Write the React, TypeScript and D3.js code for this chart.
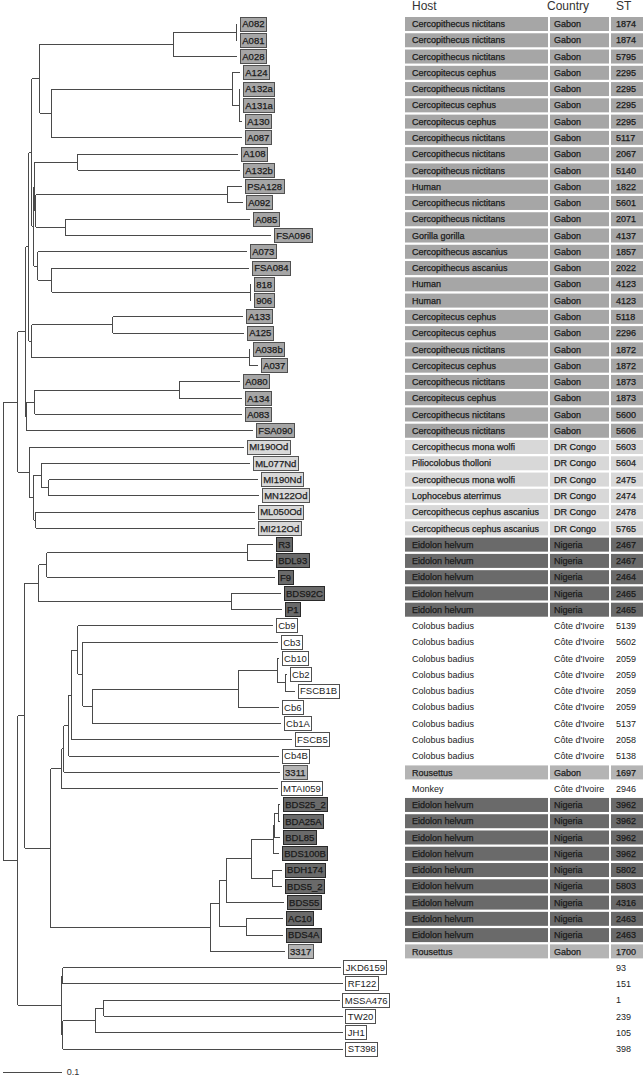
import React, { useEffect, useRef } from "react";
import * as d3 from "d3";

// ---- Tree (Newick pieces, branch lengths in substitutions/site) ----
const gabonA = "(((A082:0.0017,A081:0.0017):0.1068,A028:0.1085):0.2271,((A124:0.0136,(A132a:0.0017,A131a:0.0017,A130:0.0051):0.0119):0.3068,A087:0.3237):0.0203)";
const gabonB = "(((A108:0.2729,A132b:0.2763):0.0729,((PSA128:0.0254,A092:0.0271):0.3254,(A085:0.3136,FSA096:0.3492):0.0508):0.0017):0.0017,(A073:0.3559,(FSA084:0.3356,(818:0.0017,906:0.0017):0.3373):0.0237):0.0068)";
const gabonC = "((A133:0.2220,A125:0.2237):0.1373,(A038b:0.0017,A037:0.0153):0.3695)";
const gabonD = "(((A080:0.1034,A134:0.1068):0.2458,A083:0.3525):0.0136,FSA090:0.3847)";
const congo = "(MI190Od:0.3644,((ML077Nd:0.3542,(MI190Nd:0.3559,MN122Od:0.3576):0.0119):0.0136,(ML050Od:0.3729,MI212Od:0.3729):0.0034):0.0068)";
const nigeriaA = "(((R3:0.0441,BDL93:0.0441):0.3407,F9:0.3881):0.0136,(BDS92C:0.0847,P1:0.0864):0.3271)";
const civ = "(((((Cb9:0.3322,(Cb3:0.3322,(((Cb10:0.0034,(Cb2:0.0034,FSCB1B:0.0169):0.0136):0.0661,Cb6:0.0695):0.2475,Cb1A:0.3203):0.0169):0.0085):0.0102,FSCB5:0.3746):0.0051,Cb4B:0.3576):0.0085,3311:0.3678):0.0034,MTAI059:0.3678)";
const nigeriaB = "(((((((BDS25_2:0.0034,BDA25A:0.0034):0.0068,BDL85:0.0102):0.0017,BDS100B:0.0102):0.0373,(BDH174:0.0169,BDS5_2:0.0169):0.0356):0.0424,BDS55:0.0983):0.0119,(AC10:0.0627,BDS4A:0.0627):0.0458):0.0153,3317:0.1271)";
const outgroup = "((JKD6159:0.4729,RF122:0.4763):0.0017,(((MSSA476:0.4017,TW20:0.4068):0.0136,JH1:0.4203):0.0559,ST398:0.4763):0.0017)";

const newick =
  `(((((${gabonA}:0.0136,${gabonB}:0.0034):0.0051,${gabonC}:0.0051):0.0051,${gabonD}:0.0017):0.0136,${congo}:0.0203):0.0254,` +
  `((${nigeriaA}:0.0237,(${civ}:0.0186,${nigeriaB}:0.2712):0.0441):0.0119,${outgroup}:0.0746):0.0254);`;

// ---- Table data (same order as tree leaves) ----
const hosts = [
  "Cercopithecus nictitans", "Cercopithecus nictitans", "Cercopithecus nictitans", "Cercopitecus cephus",
  "Cercopithecus nictitans", "Cercopitecus cephus", "Cercopitecus cephus", "Cercopithecus nictitans",
  "Cercopithecus nictitans", "Cercopithecus nictitans", "Human", "Cercopithecus nictitans",
  "Cercopithecus nictitans", "Gorilla gorilla", "Cercopithecus ascanius", "Cercopithecus ascanius",
  "Human", "Human", "Cercopitecus cephus", "Cercopitecus cephus",
  "Cercopithecus nictitans", "Cercopitecus cephus", "Cercopithecus nictitans", "Cercopitecus cephus",
  "Cercopithecus nictitans", "Cercopithecus nictitans",
  "Cercopithecus mona wolfi", "Piliocolobus tholloni", "Cercopithecus mona wolfi", "Lophocebus aterrimus",
  "Cercopithecus cephus ascanius", "Cercopithecus cephus ascanius",
  "Eidolon helvum", "Eidolon helvum", "Eidolon helvum", "Eidolon helvum", "Eidolon helvum",
  "Colobus badius", "Colobus badius", "Colobus badius", "Colobus badius", "Colobus badius",
  "Colobus badius", "Colobus badius", "Colobus badius", "Colobus badius",
  "Rousettus", "Monkey",
  "Eidolon helvum", "Eidolon helvum", "Eidolon helvum", "Eidolon helvum", "Eidolon helvum",
  "Eidolon helvum", "Eidolon helvum", "Eidolon helvum", "Eidolon helvum",
  "Rousettus",
  "", "", "", "", "", "",
];
const countries = [
  ...Array(26).fill("Gabon"),
  ...Array(6).fill("DR Congo"),
  ...Array(5).fill("Nigeria"),
  ...Array(9).fill("Côte d'Ivoire"),
  "Gabon", "Côte d'Ivoire",
  ...Array(9).fill("Nigeria"),
  "Gabon",
  ...Array(6).fill(""),
];
const sts = [
  "1874", "1874", "5795", "2295", "2295", "2295", "2295", "5117", "2067", "5140",
  "1822", "5601", "2071", "4137", "1857", "2022", "4123", "4123", "5118", "2296",
  "1872", "1872", "1873", "1873", "5600", "5606",
  "5603", "5604", "2475", "2474", "2478", "5765",
  "2467", "2467", "2464", "2465", "2465",
  "5139", "5602", "2059", "2059", "2059", "2059", "5137", "2058", "5138",
  "1697", "2946",
  "3962", "3962", "3962", "3962", "5802", "5803", "4316", "2463", "2463",
  "1700",
  "93", "151", "1", "239", "105", "398",
];
const headers = ["Host", "Country", "ST"];

function parseNewick(s: string) {
  let i = 0;
  function node(): any {
    const n: any = { name: "", length: 0, children: [] };
    if (s[i] === "(") {
      i++;
      n.children.push(node());
      while (s[i] === ",") { i++; n.children.push(node()); }
      i++;
    }
    let name = "";
    while (i < s.length && !",():;".includes(s[i])) name += s[i++];
    n.name = name;
    if (s[i] === ":") {
      i++;
      let num = "";
      while (i < s.length && !",();".includes(s[i])) num += s[i++];
      n.length = +num;
    }
    return n;
  }
  return node();
}

function groupStyle(host: string, country: string) {
  if (country === "Nigeria") return { fill: "#6a6a6a", text: "#1a1a1a", stroke: "#2a2a2a" };
  if (country === "DR Congo") return { fill: "#d8d8d8", text: "#222", stroke: "#555" };
  if (country === "Gabon" && host === "Rousettus") return { fill: "#b4b4b4", text: "#1e1e1e", stroke: "#555" };
  if (country === "Gabon") return { fill: "#a6a6a6", text: "#1a1a1a", stroke: "#505050" };
  return { fill: "none", text: "#222", stroke: "#505050" };
}

const FONT = "'Liberation Sans', Arial, Helvetica, sans-serif";

export default function App() {
  const ref = useRef<SVGSVGElement | null>(null);

  useEffect(() => {
    const svg = d3.select(ref.current);
    svg.selectAll("*").remove();

    const root = d3.hierarchy(parseNewick(newick), (d: any) => (d.children.length ? d.children : null));
    root.eachBefore((d: any) => {
      d.dist = d.parent ? d.parent.dist + d.data.length : 0;
    });
    const leaves = root.leaves();
    const y = d3.scalePoint<string>().domain(leaves.map((l: any) => l.data.name)).range([24, 1049]);
    const x = d3.scaleLinear().domain([0, 0.1]).range([3, 61.8]);

    root.eachAfter((d: any) => {
      if (d.children) {
        d.py = (d.children[0].py + d.children[d.children.length - 1].py) / 2;
      } else {
        d.py = y(d.data.name);
      }
      d.px = x(d.dist);
    });

    const gTree = svg.append("g");
    const segs: string[] = [];
    root.each((d: any) => {
      if (d.parent) segs.push(`M${d.parent.px},${d.py}H${d.px}`);
      if (d.children) segs.push(`M${d.px},${d.children[0].py}V${d.children[d.children.length - 1].py}`);
    });
    gTree
      .append("path")
      .attr("d", segs.join(""))
      .attr("fill", "none")
      .attr("stroke", "#4a4a4a")
      .attr("stroke-width", 1)
      .attr("shape-rendering", "crispEdges");

    // leaf labels with boxes
    leaves.forEach((l: any, i: number) => {
      const st = groupStyle(hosts[i], countries[i]);
      const g = gTree.append("g").attr("transform", `translate(${l.px + 3},${l.py})`);
      const rect = g.append("rect");
      const t = g
        .append("text")
        .attr("x", 2)
        .attr("y", 0)
        .attr("dy", "0.35em")
        .attr("font-family", FONT)
        .attr("font-size", 9.5)
        .attr("fill", st.text)
        .attr("stroke", st.fill === "none" ? "none" : st.text)
        .attr("stroke-width", 0.25)
        .text(l.data.name);
      const w = (t.node() as SVGTextElement).getComputedTextLength();
      rect
        .attr("x", 0)
        .attr("y", -7)
        .attr("width", w + 4)
        .attr("height", 14)
        .attr("fill", st.fill === "none" ? "#fff" : st.fill)
        .attr("stroke", st.stroke)
        .attr("stroke-width", 1)
        .attr("shape-rendering", "crispEdges");
    });

    // scale bar
    const sb = svg.append("g");
    sb.append("line")
      .attr("x1", x(0))
      .attr("x2", x(0.1))
      .attr("y1", 1072)
      .attr("y2", 1072)
      .attr("stroke", "#4a4a4a")
      .attr("shape-rendering", "crispEdges");
    sb.append("text")
      .attr("x", x(0.1) + 5)
      .attr("y", 1072)
      .attr("dy", "0.35em")
      .attr("font-family", FONT)
      .attr("font-size", 9)
      .attr("fill", "#333")
      .text("0.1");

    // table
    const cols = [
      { x0: 405, x1: 548, tx: 412 },
      { x0: 550, x1: 609, tx: 554 },
      { x0: 611, x1: 643, tx: 616 },
    ];
    const tbl = svg.append("g");
    headers.forEach((h, j) => {
      tbl.append("text")
        .attr("x", j === 1 ? 547 : cols[j].tx)
        .attr("y", 6)
        .attr("dy", "0.35em")
        .attr("font-family", FONT)
        .attr("font-size", 12)
        .attr("fill", "#333")
        .text(h);
    });
    const bands = tbl.append("g");
    const texts = tbl.append("g");
    leaves.forEach((l: any, i: number) => {
      const st = groupStyle(hosts[i], countries[i]);
      const vals = [hosts[i], countries[i], sts[i]];
      cols.forEach((c, j) => {
        if (st.fill !== "none" && hosts[i] !== "") {
          bands.append("rect")
            .attr("x", c.x0)
            .attr("y", l.py - 7)
            .attr("width", c.x1 - c.x0)
            .attr("height", 14)
            .attr("fill", st.fill);
        }
        if (vals[j]) {
          texts.append("text")
            .attr("x", c.tx)
            .attr("y", l.py)
            .attr("dy", "0.35em")
            .attr("font-family", FONT)
            .attr("font-size", 9)
            .attr("fill", st.text)
            .attr("stroke", st.fill === "none" ? "none" : st.text)
            .attr("stroke-width", 0.25)
            .text(vals[j]);
        }
      });
    });
  }, []);

  return (
    <svg
      ref={ref}
      width={643}
      height={1077}
      style={{ position: "absolute", left: 0, top: 0, background: "#fff" }}
    />
  );
}
